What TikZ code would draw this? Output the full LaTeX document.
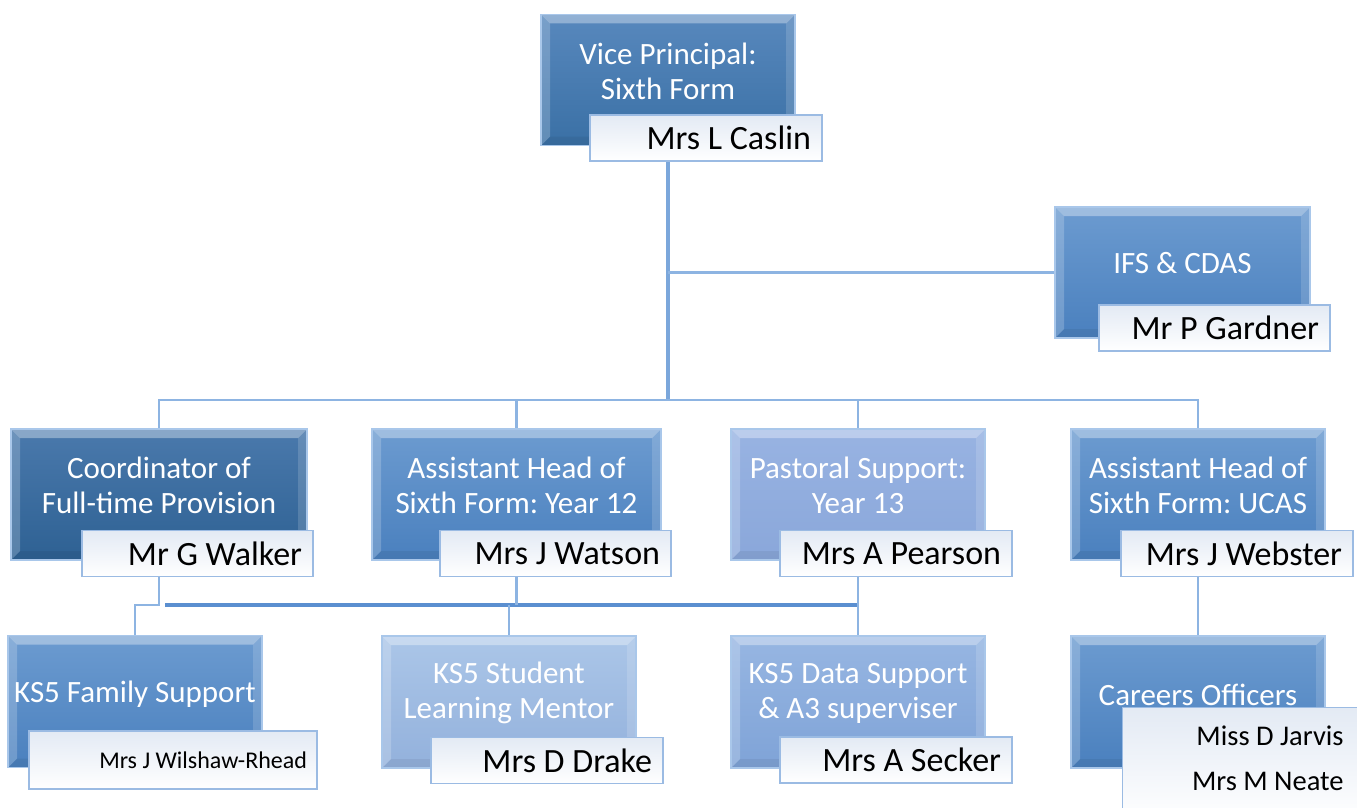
\documentclass[tikz,border=0pt]{standalone}
\usepackage{fontspec}
\setmainfont{Carlito}
\usetikzlibrary{backgrounds}

\definecolor{vptop}{HTML}{5888BD}
\definecolor{vpbot}{HTML}{3A70A5}
\definecolor{cotop}{HTML}{4A79AC}
\definecolor{cobot}{HTML}{2E6193}
\definecolor{midtop}{HTML}{6C9BD0}
\definecolor{midbot}{HTML}{4A80BE}
\definecolor{pasttop}{HTML}{98B3E2}
\definecolor{pastbot}{HTML}{8AA7DA}
\definecolor{menttop}{HTML}{ABC6E8}
\definecolor{mentbot}{HTML}{93B1DC}
\definecolor{datatop}{HTML}{97B6E2}
\definecolor{databot}{HTML}{7FA3D7}
\definecolor{postedge}{HTML}{A9C7EA}
\definecolor{staffedge}{HTML}{9BBBE3}
\definecolor{stafftop}{HTML}{E3EAF4}
\definecolor{linkblue}{HTML}{8DB4E2}
\definecolor{trunkblue}{HTML}{7BA7DB}
\definecolor{busblue}{HTML}{5B8FD0}

\tikzset{
  post/.style={rectangle, draw=postedge, line width=1.5pt, minimum height=131, inner sep=0pt,
    path picture={
      \coordinate (nw) at (path picture bounding box.north west);
      \coordinate (ne) at (path picture bounding box.north east);
      \coordinate (sw) at (path picture bounding box.south west);
      \coordinate (se) at (path picture bounding box.south east);
      \fill[white, opacity=.35] (nw) -- (ne) -- ([shift={(-9pt,-9pt)}]ne) -- ([shift={(9pt,-9pt)}]nw) -- cycle;
      \fill[white, opacity=.2] (nw) -- (sw) -- ([shift={(9pt,9pt)}]sw) -- ([shift={(9pt,-9pt)}]nw) -- cycle;
      \fill[white, opacity=.15] (ne) -- (se) -- ([shift={(-9pt,9pt)}]se) -- ([shift={(-9pt,-9pt)}]ne) -- cycle;
      \fill[black, opacity=.06] (sw) -- (se) -- ([shift={(-9pt,9pt)}]se) -- ([shift={(9pt,9pt)}]sw) -- cycle;
    }},
  title/.style={text=white, align=center, font=\fontsize{31}{35}\selectfont},
  staff/.style={rectangle, draw=staffedge, line width=1.2pt, top color=stafftop, bottom color=white,
    inner xsep=11pt, inner ysep=0pt, align=flush right, minimum height=46, font=\fontsize{34}{38}\selectfont},
  link/.style={draw=linkblue, line width=2.5pt},
  trunk/.style={draw=trunkblue, line width=4pt},
  bus/.style={draw=busblue, line width=3.5pt}
}

\begin{document}
\frenchspacing
\begin{tikzpicture}[x=1pt, y=-1pt]
\useasboundingbox (0,0) rectangle (1357,808);

\node[post, top color=vptop, bottom color=vpbot, minimum width=254] (vp) at (668,80) {};
\node[title] (vpt) at ([yshift=9pt]vp.center) {Vice Principal:\\Sixth Form};
\node[staff, text width=210] (vpname) at (706,138) {Mrs L Caslin};

\node[post, top color=midtop, bottom color=midbot, minimum width=255] (ifs) at (1182.5,272.5) {};
\node[title] (ifst) at ([yshift=9pt]ifs.center) {IFS \& CDAS};
\node[staff, text width=209] (ifsname) at (1214.5,328) {Mr P Gardner};

\node[post, top color=cotop, bottom color=cobot, minimum width=296] (coord) at (159,494.5) {};
\node[title] (coordt) at ([yshift=9pt]coord.center) {Coordinator of\\Full-time Provision};
\node[staff, text width=209] (coordname) at (197.5,553.5) {Mr G Walker};

\node[post, top color=midtop, bottom color=midbot, minimum width=289] (ahy12) at (516.5,494.5) {};
\node[title] (ahy12t) at ([yshift=9pt]ahy12.center) {Assistant Head of\\Sixth Form: Year 12};
\node[staff, text width=209] (ahy12name) at (555.5,553.5) {Mrs J Watson};

\node[post, top color=pasttop, bottom color=pastbot, minimum width=254] (past) at (858,494.5) {};
\node[title] (pastt) at ([yshift=9pt]past.center) {Pastoral Support:\\Year 13};
\node[staff, text width=210] (pastname) at (896,553.5) {Mrs A Pearson};

\node[post, top color=midtop, bottom color=midbot, minimum width=254] (ucas) at (1198,494.5) {};
\node[title] (ucast) at ([yshift=9pt]ucas.center) {Assistant Head of\\Sixth Form: UCAS};
\node[staff, text width=210] (ucasname) at (1237,553.5) {Mrs J Webster};

\node[post, top color=midtop, bottom color=midbot, minimum width=254, minimum height=132] (fam) at (135,701.5) {};
\node[title] (famt) at ([yshift=7pt]fam.center) {KS5 Family Support};
\node[staff, text width=268, inner xsep=10pt, minimum height=58, font=\fontsize{24}{28}\selectfont] (famname) at (173,760) {Mrs J Wilshaw-Rhead};

\node[post, top color=menttop, bottom color=mentbot, minimum width=254, minimum height=132] (ment) at (509,702) {};
\node[title] (mentt) at ([yshift=9pt]ment.center) {KS5 Student\\Learning Mentor};
\node[staff, text width=210] (mentname) at (547,760.5) {Mrs D Drake};

\node[post, top color=datatop, bottom color=databot, minimum width=254, minimum height=132] (data) at (858,702) {};
\node[title] (datat) at ([yshift=9pt]data.center) {KS5 Data Support\\\& A3 superviser};
\node[staff, text width=210] (dataname) at (896,760) {Mrs A Secker};

\node[post, top color=midtop, bottom color=midbot, minimum width=254, minimum height=132] (car) at (1198,702) {};
\node[title] (cart) at ([yshift=7pt]car.center) {Careers Officers};
\node[staff, anchor=north west, text width=232, inner ysep=18pt, minimum height=0,
  font=\fontsize{28.5}{45}\selectfont] (carname) at (1122,707) {Miss D Jarvis\rule{22pt}{0pt}\\Mrs M Neate\rule[-14pt]{22pt}{0pt}};

\begin{scope}[on background layer]
\coordinate (bar) at (668,400);
\coordinate (sub) at (165,605);
\draw[trunk] (vp.south) -- (bar);
\draw[link] (vp.south |- ifs.west) -- (ifs.west);
\draw[link] (coord.north) |- (bar) -| (ucas.north);
\draw[link] (ahy12.north) -- (ahy12.north |- bar);
\draw[link] (past.north) -- (past.north |- bar);
\draw[link] (coord.south) -- (coord.south |- sub) -| (fam.north);
\draw[bus] (sub) -- (past.south |- sub);
\draw[link] (ahy12.south) -- (ahy12.south |- sub);
\draw[link] (ment.north |- sub) -- (ment.north);
\draw[link] (past.south) -- (data.north);
\draw[link] (ucas.south) -- (car.north);
\end{scope}
\end{tikzpicture}
\end{document}
